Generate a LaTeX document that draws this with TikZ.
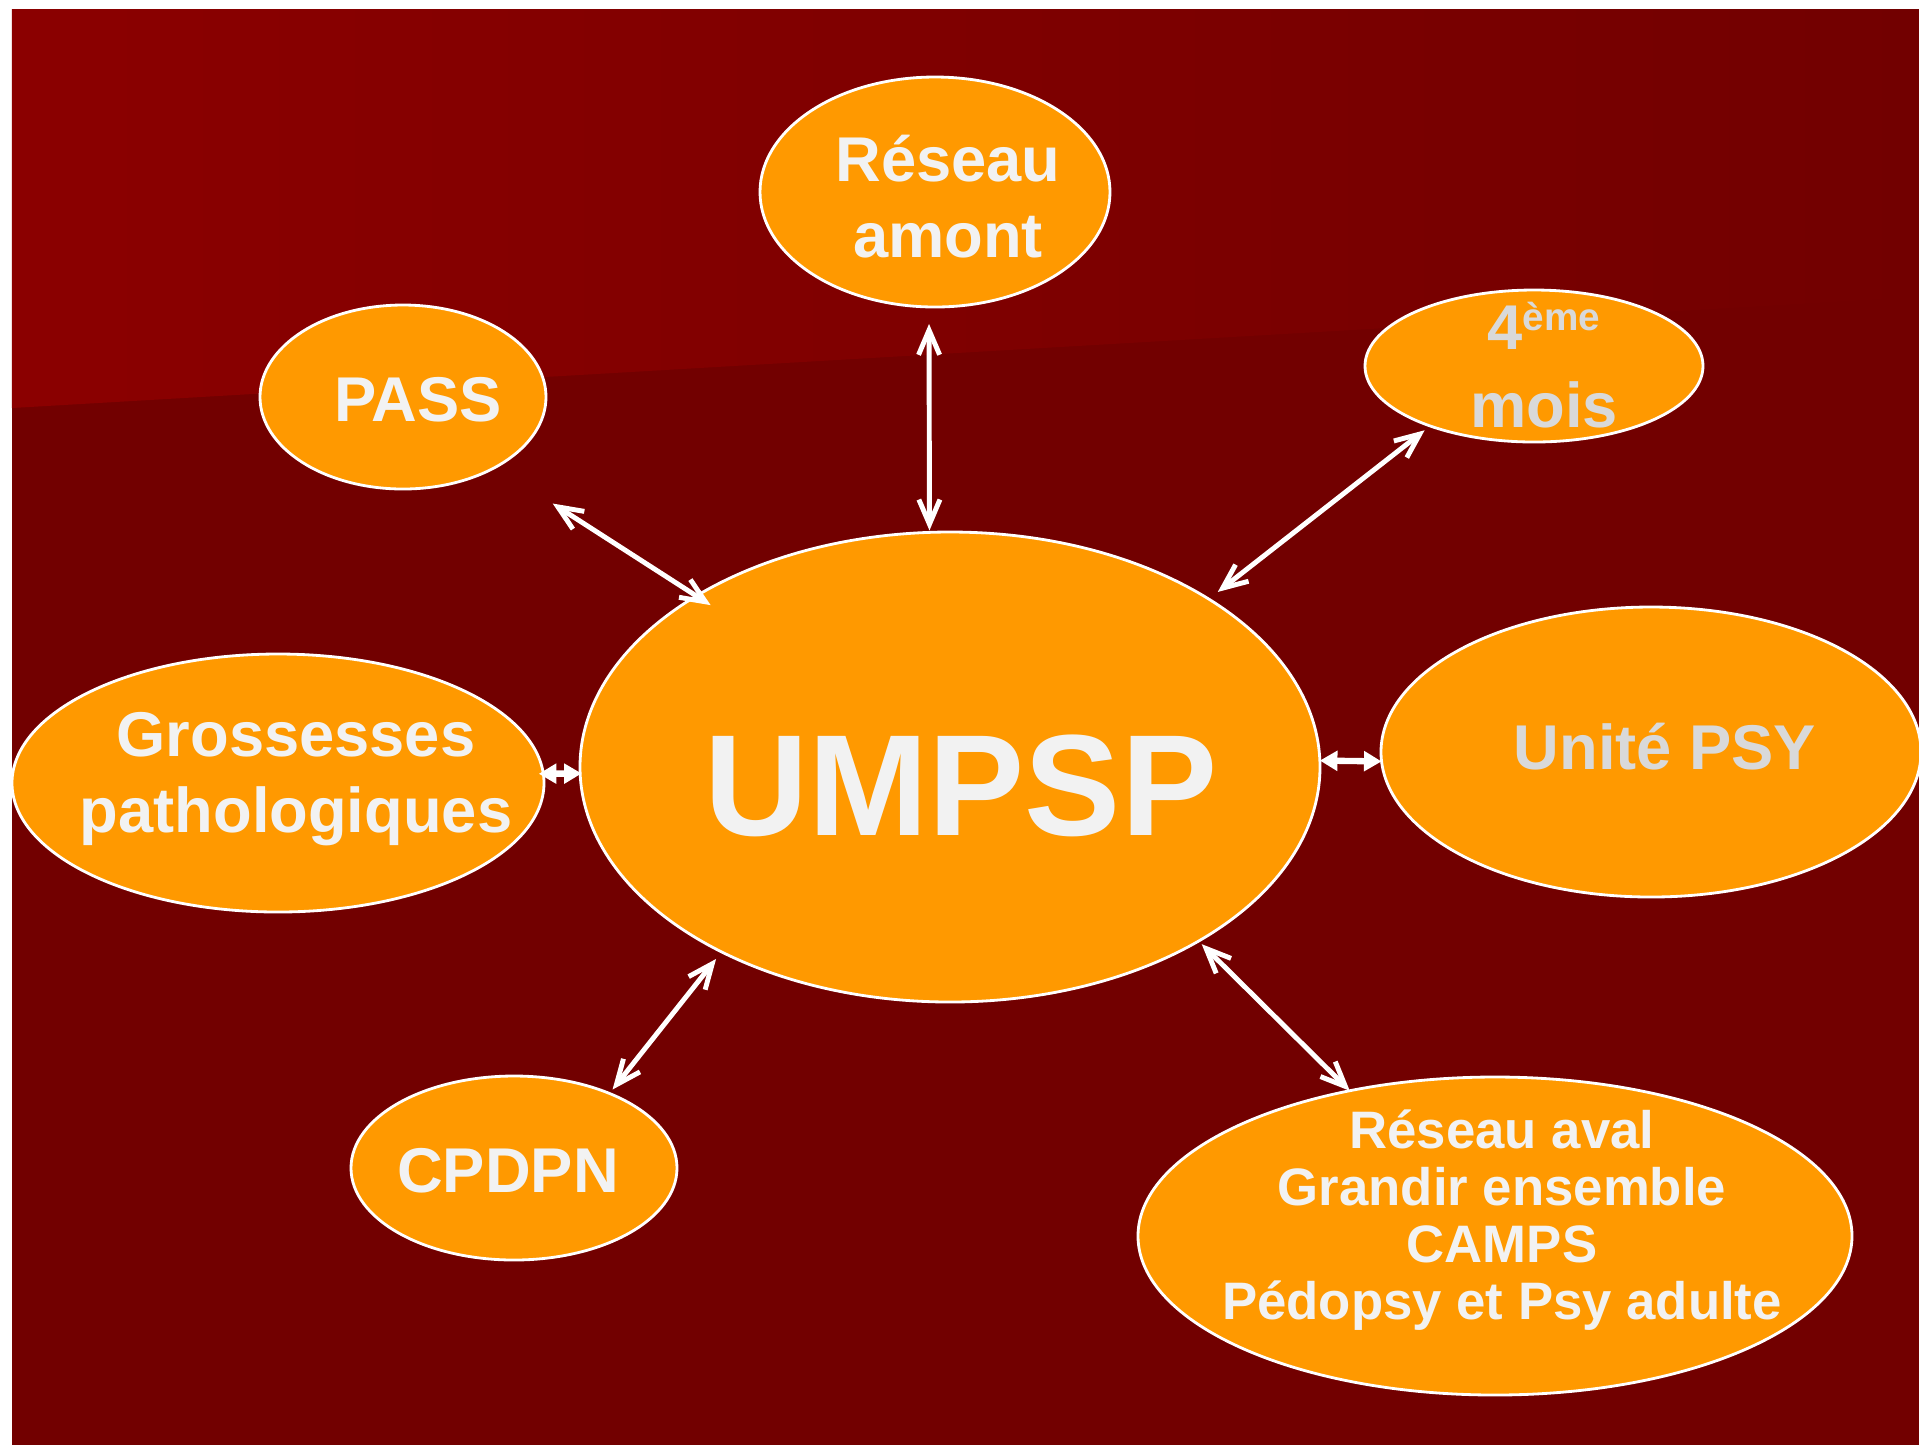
\documentclass[tikz,border=0pt]{standalone}
\usepackage{fontspec}
\setmainfont{Liberation Sans}
\usetikzlibrary{shapes.geometric,arrows.meta}

\definecolor{bgtop}{HTML}{8B0000}
\definecolor{bgdark}{HTML}{720000}
\definecolor{bubblefill}{HTML}{FF9900}
\definecolor{txtlight}{HTML}{F2F2F2}
\definecolor{txtgray}{HTML}{D9D9D9}

\tikzset{
  bubble/.style={ellipse, fill=bubblefill, draw=white, line width=0.8pt, inner sep=0pt, outer sep=0pt},
  bubbletext/.style={txtlight, inner sep=0pt, align=center, font=\bfseries\fontsize{18}{21.6}\selectfont},
  link/.style={white, line width=1.4pt, {Straight Barb[length=7pt,width=6pt]}-{Straight Barb[length=7pt,width=6pt]}},
  stub/.style={white, line width=1.8pt, {Triangle[length=5pt,width=5.5pt]}-{Triangle[length=5pt,width=5.5pt]}},
}

\begin{document}
\begin{tikzpicture}
    \useasboundingbox (0,0) rectangle (19.19,-14.45);

    % Background
    \fill[bgdark] (0.12,-0.09) rectangle (19.19,-14.45);
    \shade[left color=bgtop, right color=bgdark] (0.12,-0.09) -- (19.19,-0.09) -- (19.19,-2.97) -- (0.12,-4.08) -- cycle;

    % Bubbles
    \node[bubble, minimum width=3.50cm, minimum height=2.30cm] (amont) at (9.35,-1.92) {};
    \node[bubble, minimum width=2.86cm, minimum height=1.84cm] (pass) at (4.03,-3.97) {};
    \node[bubble, minimum width=3.38cm, minimum height=1.52cm] (quatre) at (15.34,-3.66) {};
    \node[bubble, minimum width=7.40cm, minimum height=4.70cm] (umpsp) at (9.50,-7.67) {};
    \node[bubble, minimum width=5.32cm, minimum height=2.58cm] (gross) at (2.78,-7.83) {};
    \node[bubble, minimum width=5.40cm, minimum height=2.90cm] (unite) at (16.51,-7.52) {};
    \node[bubble, minimum width=3.26cm, minimum height=1.84cm] (cpdpn) at (5.14,-11.68) {};
    \node[bubble, minimum width=7.14cm, minimum height=3.18cm] (aval) at (14.95,-12.36) {};

    % Texts
    \node[bubbletext] (amont-t) at (9.48,-1.97) {Réseau\\amont};
    \node[bubbletext] (pass-t) at (4.18,-4.00) {PASS};
    \node[bubbletext, txtgray, font=\bfseries\fontsize{18}{22.1}\selectfont] (quatre-t) at (15.44,-3.65)
        {4\raisebox{5.4pt}{\fontsize{11}{11}\selectfont ème}\\mois};
    \node[bubbletext, font=\bfseries\fontsize{41}{49}\selectfont] (umpsp-t) at (9.61,-7.855) {UMPSP};
    \node[bubbletext] (gross-t) at (2.96,-7.79) {Grossesses\\pathologiques};
    \node[bubbletext, txtgray] (unite-t) at (16.65,-7.47) {Unité PSY};
    \node[bubbletext] (cpdpn-t) at (5.08,-11.71) {CPDPN};
    \node[bubbletext, font=\bfseries\fontsize{15}{16.2}\selectfont] (aval-t) at (15.02,-12.20)
        {Réseau aval\\Grandir ensemble\\CAMPS\\Pédopsy et Psy adulte};

    % Links to UMPSP
    \draw[link, shorten <=0.17cm, shorten >=0.02cm] (amont.267) -- (umpsp.95);
    \draw[link, shorten <=0.676cm, shorten >=-0.17cm] (pass.-37) -- (umpsp.146);
    \draw[link, shorten <=0.07cm, shorten >=0.115cm] (quatre.210) -- (umpsp.33);
    \draw[link, shorten <=0.05cm, shorten >=0.09cm] (cpdpn.38) -- (umpsp.219);
    \draw[link, shorten <=0.044cm] (umpsp.-35) -- (aval.135);
    \draw[stub, shorten <=-0.045cm, shorten >=-0.015cm] (gross.2) -- (umpsp.181);
    \draw[stub] (umpsp.1) -- (unite.182);
\end{tikzpicture}
\end{document}
